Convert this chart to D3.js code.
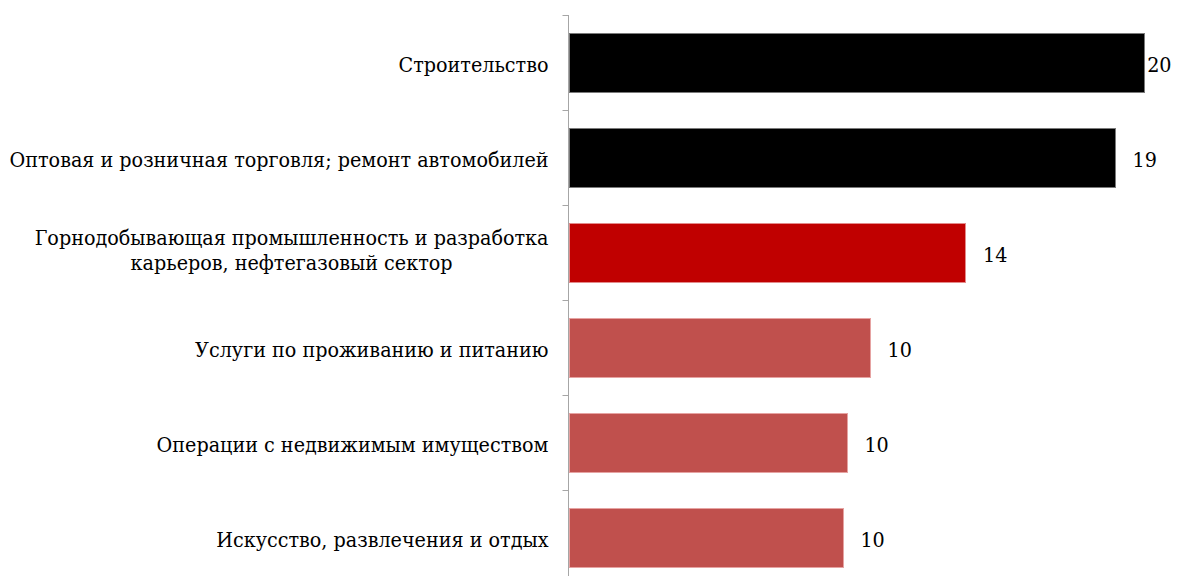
<!DOCTYPE html>
<html>
<head>
<meta charset="utf-8">
<script src="https://cdn.jsdelivr.net/npm/d3@7"></script>
<style>
  html, body { margin: 0; padding: 0; background: #fff; }
  svg { display: block; }
</style>
</head>
<body>
<svg id="chart" width="1177" height="576"></svg>
<script>
// Sectors (top to bottom) and their values
const categories = [
  ["Строительство"],
  ["Оптовая и розничная торговля; ремонт автомобилей"],
  ["Горнодобывающая промышленность и разработка", "карьеров, нефтегазовый сектор"],
  ["Услуги по проживанию и питанию"],
  ["Операции с недвижимым имуществом"],
  ["Искусство,  развлечения и отдых"]
];
const values = [20, 19, 13.8, 10.48, 9.68, 9.54];

const svg = d3.select("#chart");
const fontFamily = "'DejaVu Serif', serif";
const fontStretch = "condensed";
const fontSize = 21.3;

const keys = categories.map((c, i) => i);
const y = d3.scaleBand().domain(keys).range([15, 15 + 95 * keys.length]).padding(0);
const x = d3.scaleLinear().domain([0, 20]).range([569, 1144.3]);

const color = d3.scaleOrdinal()
  .domain(keys)
  .range(["#000000", "#000000", "#C00000", "#C0504D", "#C0504D", "#C0504D"]);
const edge = d3.scaleOrdinal()
  .domain(keys)
  .range(["#7a7a7a", "#7a7a7a", "#e38a8a", "#e6a3a2", "#e6a3a2", "#e6a3a2"]);

const barH = 59;
const data = keys.map(i => ({ i, lines: categories[i], v: values[i] }));

// Bars
svg.append("g").selectAll("rect").data(data).join("rect")
  .attr("x", x(0))
  .attr("y", d => y(d.i) + (y.bandwidth() - barH) / 2)
  .attr("width", d => x(d.v) - x(0))
  .attr("height", barH)
  .attr("fill", d => color(d.i))
  .attr("stroke", d => edge(d.i))
  .attr("stroke-width", 1)
  .attr("shape-rendering", "crispEdges");

// Category axis
const axisX = 568.5;
const ax = svg.append("g").attr("stroke", "#a6a6a6").attr("stroke-width", 1);
ax.append("line").attr("x1", axisX).attr("x2", axisX).attr("y1", 15).attr("y2", 576);
const tickYs = keys.map(i => y(i)).concat([y(keys[keys.length - 1]) + y.step()]);
ax.selectAll(".tick").data(tickYs).join("line")
  .attr("x1", axisX - 6).attr("x2", axisX)
  .attr("y1", d => Math.round(d) + 0.5).attr("y2", d => Math.round(d) + 0.5);

// Category labels: block right-aligned, lines centered within the block
const labelRight = 548.5;
const lineGap = 24.5;
data.forEach(d => {
  const cy = y(d.i) + y.bandwidth() / 2;
  const n = d.lines.length;
  const g = svg.append("g");
  const texts = d.lines.map((t, k) => g.append("text")
    .attr("font-family", fontFamily)
    .attr("font-stretch", fontStretch)
    .attr("font-size", fontSize)
    .attr("fill", "#000")
    .attr("y", cy + 9.5 + (k - (n - 1) / 2) * lineGap - (n > 1 ? 4.5 : 0))
    .text(t));
  const widths = texts.map(t => t.node().getComputedTextLength());
  const w = d3.max(widths);
  const center = labelRight - w / 2;
  texts.forEach(t => t.attr("x", center).attr("text-anchor", "middle"));
});

// Value labels
const fmt = d3.format(".0f");
svg.append("g").selectAll("text").data(data).join("text")
  .attr("font-family", fontFamily)
  .attr("font-stretch", fontStretch)
  .attr("font-size", fontSize)
  .attr("fill", "#000")
  .attr("y", d => y(d.i) + y.bandwidth() / 2 + 9.5)
  .text(d => fmt(d.v))
  .attr("x", function(d) {
    const w = this.getComputedTextLength();
    return Math.min(x(d.v) + 17, 1171.5 - w);
  });
</script>
</body>
</html>
